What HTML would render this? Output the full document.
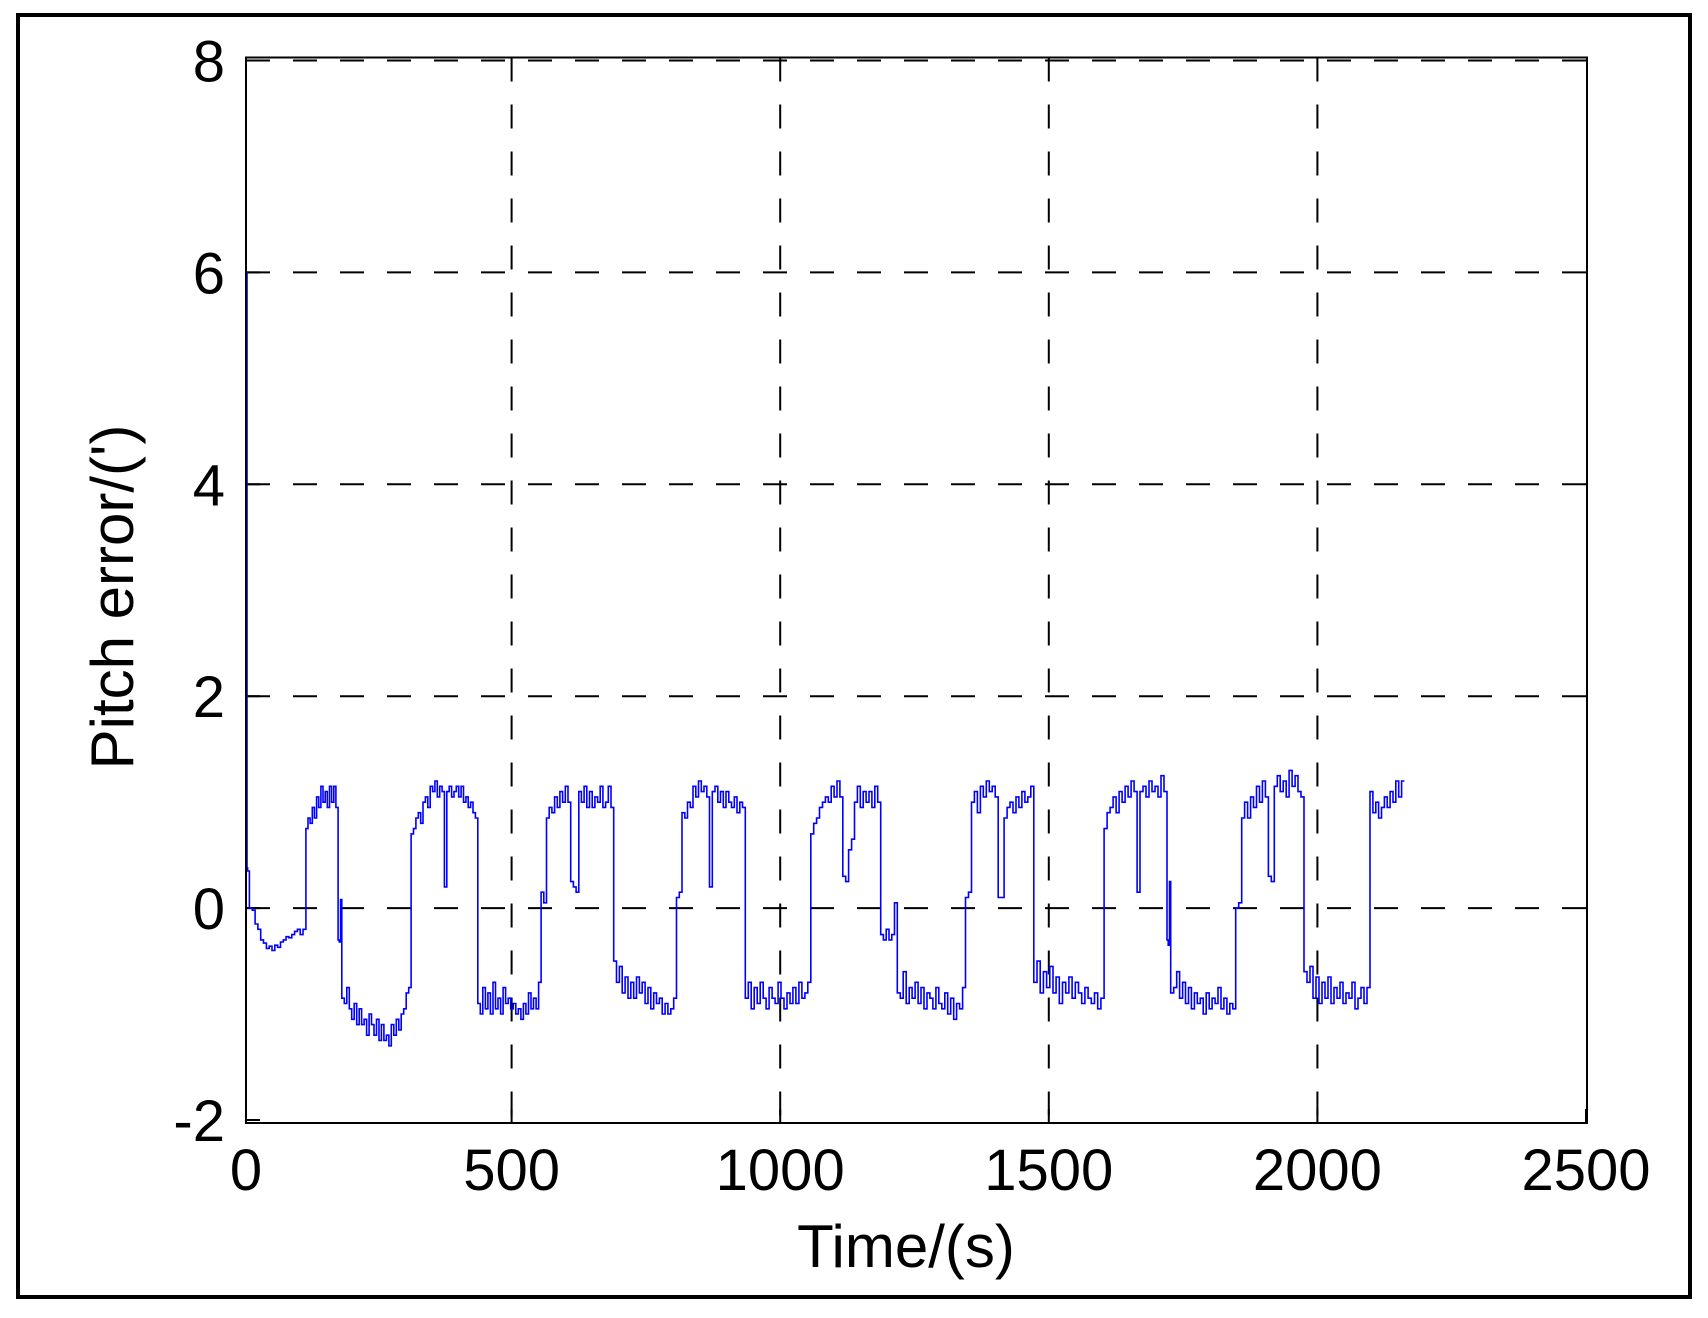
<!DOCTYPE html>
<html><head><meta charset="utf-8"><style>
html,body{margin:0;padding:0;background:#fff}
svg{display:block}
text{font-family:"Liberation Sans",Arial,sans-serif;fill:#000}
</style></head><body>
<svg id="chart" width="1708" height="1318" viewBox="0 0 1708 1318" xmlns="http://www.w3.org/2000/svg">
<rect x="18" y="15" width="1672" height="1282" fill="#fff" stroke="#000" stroke-width="4"/>
<g id="grid"></g>
<g id="ticks"></g>
<path id="series" fill="none" stroke="#0000ff" stroke-width="1.6"/>
<rect x="246" y="57.5" width="1341" height="1065.5" fill="none" stroke="#000" stroke-width="2"/>
<g id="labels"></g>
<text x="906" y="1267" font-size="60" text-anchor="middle">Time/(s)</text>
<text x="0" y="0" font-size="60" text-anchor="middle" transform="translate(133,597) rotate(-90)">Pitch error/(')</text>
</svg>
<script>
const xTicks = [0, 500, 1000, 1500, 2000, 2500];
const yTicks = [-2, 0, 2, 4, 6, 8];
const segStart = [0,5,12,117,177,184,313,437,555,690,807,935,1057,1187,1218,1345,1472,1603,1720,1727,1848,1975,2098];
const segEnd   = [5,12,117,177,184,313,437,555,690,807,935,1057,1187,1218,1345,1472,1603,1720,1727,1848,1975,2098,2162];
const segVals = [
[6,2.1,2.1,2.08],
[0.38,0.35],
[0,-0.02,-0.15,-0.2,-0.3,-0.33,-0.38,-0.36,-0.4,-0.35,-0.37,-0.32,-0.3,-0.27,-0.28,-0.25,-0.22,-0.2,-0.25,-0.2],
[0.75,0.85,0.8,0.95,0.85,1.05,0.95,1.15,1.0,1.1,0.95,1.15,1.0,1.15,0.95],
[-0.3,-0.32,0.08],
[-0.85,-0.9,-0.75,-0.95,-1.05,-0.9,-1.1,-0.95,-1.1,-1.05,-1.2,-1.0,-1.1,-1.2,-1.05,-1.25,-1.1,-1.25,-1.2,-1.3,-1.1,-1.2,-1.05,-1.15,-1.0,-0.95,-0.8,-0.75],
[0.7,0.75,0.85,0.9,0.8,1.0,1.05,0.95,1.15,1.1,1.2,1.05,1.15,1.1,0.2,1.1,1.15,1.05,1.1,1.15,1.05,1.15,1.0,1.05,0.95,1.0,0.9,0.85],
[-0.9,-1.0,-0.75,-0.95,-0.8,-1.0,-0.7,-0.95,-0.85,-1.0,-0.75,-0.9,-0.85,-0.95,-0.9,-1.0,-0.95,-1.05,-0.9,-1.0,-0.8,-0.95,-0.85,-0.95,-0.7],
[0.15,0.05,0.85,0.95,0.9,1.05,0.95,1.1,1.0,1.15,1.0,0.25,0.2,0.15,1.1,1.0,1.15,0.95,1.1,0.95,1.05,1.0,1.15,0.95,1.0,1.15,0.95],
[-0.5,-0.7,-0.55,-0.8,-0.65,-0.85,-0.7,-0.85,-0.65,-0.8,-0.7,-0.9,-0.75,-0.95,-0.8,-0.9,-0.85,-1.0,-0.9,-1.0,-0.95,-0.85],
[0.1,0.15,0.9,0.85,1.0,0.95,1.15,1.05,1.2,1.1,1.15,1.05,0.2,1.1,1.15,1.0,1.1,0.95,1.1,1.0,0.95,1.05,0.9,1.0,0.95],
[-0.85,-0.7,-0.95,-0.75,-0.9,-0.7,-0.85,-0.95,-0.75,-0.85,-0.9,-0.7,-0.85,-0.95,-0.8,-0.9,-0.75,-0.9,-0.7,-0.85,-0.8,-0.7],
[0.7,0.8,0.85,0.95,1.0,1.05,1.0,1.15,1.05,1.2,1.05,0.3,0.25,0.55,0.65,1.0,1.15,0.95,1.1,1.0,1.1,0.95,1.15,1.0],
[-0.25,-0.3,-0.2,-0.3,-0.25,0.05],
[-0.8,-0.85,-0.6,-0.9,-0.75,-0.85,-0.7,-0.9,-0.75,-0.95,-0.8,-0.85,-0.95,-0.75,-0.9,-0.95,-0.8,-1.0,-0.85,-1.05,-0.9,-0.95,-0.75],
[0.1,0.15,1.0,1.1,0.9,1.15,1.05,1.2,1.1,1.15,1.05,0.1,0.1,0.85,0.95,1.0,0.9,1.05,0.95,1.1,1.0,1.05,1.15],
[-0.7,-0.5,-0.8,-0.6,-0.75,-0.55,-0.8,-0.65,-0.9,-0.7,-0.8,-0.65,-0.85,-0.7,-0.8,-0.9,-0.75,-0.85,-0.9,-0.8,-0.95,-0.85],
[0.75,0.9,0.95,1.05,0.9,1.1,1.0,1.15,1.05,1.2,1.1,0.15,1.1,1.15,1.05,1.2,1.1,1.15,1.05,1.25,1.1],
[-0.3,-0.35,0.25],
[-0.8,-0.75,-0.6,-0.85,-0.7,-0.9,-0.75,-0.95,-0.8,-0.9,-0.85,-1.0,-0.8,-0.95,-0.85,-0.9,-0.75,-0.95,-0.85,-1.0,-0.9,-0.95],
[0.0,0.05,0.85,1.0,0.85,1.05,0.95,1.15,1.0,1.2,1.05,0.3,0.25,1.15,1.25,1.1,1.2,1.05,1.3,1.15,1.25,1.1,1.05],
[-0.6,-0.7,-0.55,-0.85,-0.65,-0.9,-0.7,-0.85,-0.65,-0.9,-0.75,-0.85,-0.7,-0.9,-0.8,-0.85,-0.7,-0.95,-0.85,-0.75,-0.9,-0.75],
[1.1,0.9,1.0,0.85,0.95,1.05,0.95,1.1,1.0,1.2,1.05,1.2]
];

const X0 = 243, X1 = 1586, Y0 = 1120, Y1 = 60.5;
function xs(t){ return X0 + t / 2500 * (X1 - X0); }
function ys(v){ return Y0 - (v + 2) / 10 * (Y0 - Y1); }
const NS = 'http://www.w3.org/2000/svg';
const grid = document.getElementById('grid');
const ticks = document.getElementById('ticks');
const labels = document.getElementById('labels');
function mk(tag, attrs, parent){
  const e = document.createElementNS(NS, tag);
  for (const k in attrs) e.setAttribute(k, attrs[k]);
  parent.appendChild(e);
  return e;
}
xTicks.forEach(function(t){
  const x = Math.max(246, xs(t));
  if (t > 0 && t < 2500) {
    const g = mk('line', {x1:x, x2:x, y1:57.5, y2:1123, stroke:'#000', 'stroke-width':2, 'stroke-dasharray':'24 23'}, grid);
    
    
  }
  const tk = mk('line', {x1:x, x2:x, y1:1123, y2:1109, stroke:'#000', 'stroke-width':2}, ticks);
  
  
  const lb = mk('text', {x:x, y:1190, 'font-size':58, 'text-anchor':'middle'}, labels);
  lb.textContent = String(t);
  
  
});
yTicks.forEach(function(v){
  const y = ys(v);
  if (v > -2) {
    const g = mk('line', {x1:246, x2:1587, y1:y, y2:y, stroke:'#000', 'stroke-width':2, 'stroke-dasharray':'24 23'}, grid);
    
    
  }
  const tk = mk('line', {x1:246, x2:260, y1:y, y2:y, stroke:'#000', 'stroke-width':2}, ticks);
  
  
  const lb = mk('text', {x:225, y:y + 21, 'font-size':58, 'text-anchor':'end'}, labels);
  lb.textContent = String(v);
  
  
});
let d = '';
segVals.forEach(function(vals, s){
  const t0 = segStart[s], t1 = segEnd[s];
  const w = (t1 - t0) / vals.length;
  vals.forEach(function(v, i){
    const a = Math.max(247, xs(t0 + i * w)), b = Math.max(247, xs(t0 + (i + 1) * w)), y = ys(v);
    d += (d === '' ? 'M' : 'L') + a.toFixed(1) + ',' + y.toFixed(1) + 'L' + b.toFixed(1) + ',' + y.toFixed(1);
  });
});
document.getElementById('series').setAttribute('d', d);
</script>
</body></html>
